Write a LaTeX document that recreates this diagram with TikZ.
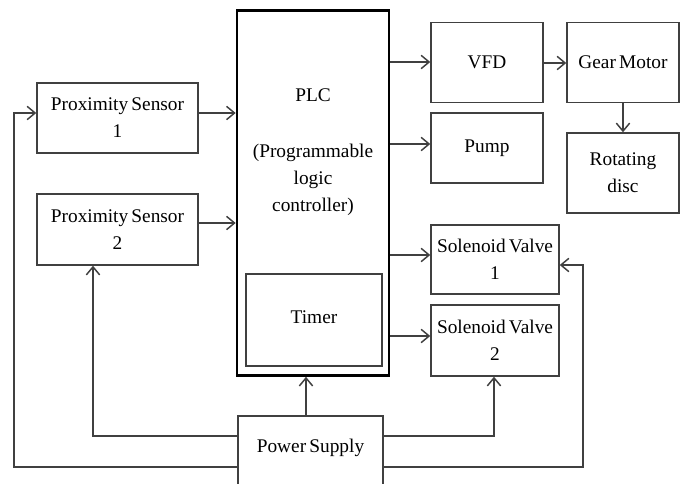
\documentclass[tikz,border=0pt]{standalone}
\usepackage{fontspec}
\setmainfont{Liberation Serif}
\usetikzlibrary{arrows.meta}
\definecolor{ln}{HTML}{404040}
\begin{document}
\begin{tikzpicture}[x=0.75pt,y=-0.75pt,
  box/.style={draw=ln,line width=1.1pt,rectangle,inner sep=0pt,align=center,
    font=\fontsize{14.5}{20.25}\selectfont},
  lbl/.style={inner sep=0pt,align=center,font=\fontsize{14.5}{20.25}\selectfont},
  conn/.style={draw=ln,line width=1.1pt,-{Straight Barb[length=6pt,width=10pt,line width=1.1pt]}},
  wire/.style={draw=ln,line width=1.1pt}]
\useasboundingbox (0,0) rectangle (682,483);
\fill[white] (0,0) rectangle (682,483);
% left sensors
\node[box,minimum width=120.75pt,minimum height=52.5pt] (ps1) at (117.5,118) {Proximity\,Sensor\\1};
\node[box,minimum width=120.75pt,minimum height=53.25pt] (ps2) at (117.5,229.5) {Proximity\,Sensor\\2};
% PLC
\node[box,draw=black,line width=2pt,minimum width=114pt,minimum height=273.75pt] (plc) at (313,193) {};
\node[lbl] (plct) at (313,95) {PLC};
\node[lbl] (plcd) at (313,180) {(Programmable\\logic\\controller)};
\node[box,minimum width=102pt,minimum height=69pt] (tim) at (314,320) {};
\node[lbl] (timt) at (314,317) {Timer};
% outputs
\node[box,minimum width=84pt,minimum height=60pt] (vfd) at (487,62.5) {VFD};
\node[box,minimum width=84pt,minimum height=52.5pt] (pump) at (487,148) {Pump};
\node[box,minimum width=84pt,minimum height=60pt] (gm) at (623,62.5) {Gear\,Motor};
\node[box,minimum width=84pt,minimum height=60pt] (rd) at (623,173) {Rotating\\disc};
\node[box,minimum width=96pt,minimum height=51.75pt] (sv1) at (495,259.5) {Solenoid\,Valve\\1};
\node[box,minimum width=96pt,minimum height=53.25pt] (sv2) at (495,340.5) {Solenoid\,Valve\\2};
% power supply
\node[box,minimum width=108.75pt,minimum height=63pt] (pw) at (310.5,458) {};
\node[lbl] (pwt) at (310.5,448) {Power\,Supply};
% coordinates
\coordinate (a1) at (14,467);
\coordinate (a2) at (14,113);
\coordinate (b1) at (93,436);
\coordinate (c1) at (494,436);
\coordinate (d1) at (583,467);
\coordinate (d2) at (583,265);
% connectors
\draw[conn] (ps1.east |- 0,113) -- (plc.west |- 0,113);
\draw[conn] (ps2.east |- 0,223) -- (plc.west |- 0,223);
\draw[conn] (plc.east |- 0,62) -- (vfd.west |- 0,62);
\draw[conn] (plc.east |- 0,144) -- (pump.west |- 0,144);
\draw[conn] (plc.east |- 0,255) -- (sv1.west |- 0,255);
\draw[conn] (plc.east |- 0,336) -- (sv2.west |- 0,336);
\draw[conn] (vfd.east |- 0,63) -- (gm.west |- 0,63);
\draw[conn] (gm.south) -- (rd.north);
\draw[conn] (pw.north -| 306,0) -- (plc.south -| 306,0);
\draw[conn] (pw.west |- b1) -- (b1) -- (ps2.south -| b1);
\draw[conn] (pw.east |- c1) -- (c1) -- (sv2.south -| c1);
\draw[conn] (pw.west |- a1) -- (a1) -- (a2) -- (ps1.west |- a2);
\draw[conn] (pw.east |- d1) -- (d1) -- (d2) -- (sv1.east |- d2);
\end{tikzpicture}
\end{document}
